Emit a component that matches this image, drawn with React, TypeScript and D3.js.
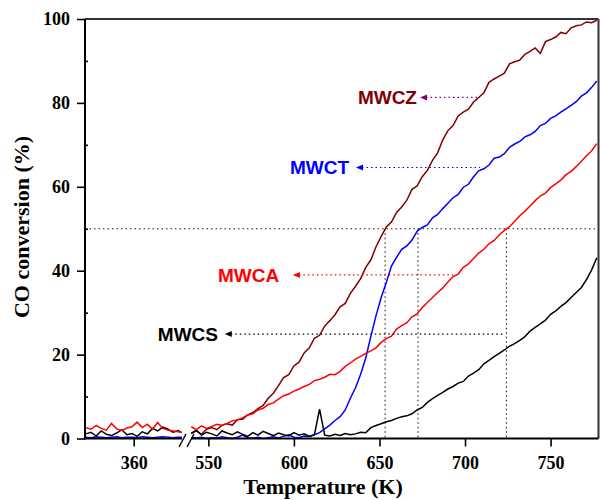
import React, { useEffect, useRef } from 'react'
import * as d3 from 'd3'

// temperatures (K) for the two pieces of the broken axis
const leftTemps = [332, 335, 338, 341, 344, 347, 350, 353, 356, 359, 362, 365, 368, 371, 374, 377, 380, 383, 386, 388]
const rightTemps = d3.range(540, 780, 3)

// CO conversion (%)
const mwczRight = [
    1.2, 1.8, 1.0, 2.2, 2.6, 2.1, 3.2, 3.5, 3.2, 4.5,
    4.6, 5.6, 6.2, 7.1, 7.9, 9.6, 10.8, 12.6, 14.5, 15.2,
    17.3, 18.2, 20.4, 21.6, 23.9, 24.6, 26.8, 28.1, 29.5, 31.4,
    32.2, 34.6, 36.3, 38.1, 40.8, 42.6, 45.7, 48.2, 50.4, 51.6,
    53.9, 55.2, 56.8, 59.4, 60.2, 62.4, 63.9, 66.3, 68.1, 71.2,
    73.4, 74.6, 76.9, 77.8, 78.5, 80.2, 81.3, 82.4, 84.9, 85.7,
    86.4, 87.1, 89.3, 89.8, 90.2, 91.6, 92.3, 93.1, 91.8, 94.6,
    95.1, 95.7, 96.8, 96.5, 97.9, 98.4, 98.6, 99.3, 99.1, 99.7
]
const mwctRight = [
    0.2, 0.1, 0.3, 0.0, 0.2, 0.1, 0.4, 0.2, 0.0, 0.3,
    0.8, 0.2, 0.1, 0.3, 0.0, 0.2, 0.4, 0.1, 0.5, 0.9,
    0.3, 0.2, 0.6, 0.5, 0.9, 1.4, 2.3, 3.2, 4.3, 5.2,
    6.8, 9.6, 12.1, 15.3, 19.2, 24.4, 29.3, 33.6, 37.2, 41.1,
    43.2, 45.1, 45.9, 47.3, 49.4, 50.3, 50.9, 52.6, 53.4, 54.8,
    56.1, 57.4, 58.2, 59.9, 60.6, 62.4, 63.8, 64.3, 65.2, 66.8,
    67.1, 67.9, 69.4, 70.2, 70.8, 71.9, 72.4, 73.2, 74.6, 75.1,
    76.3, 76.9, 77.8, 78.6, 79.4, 80.3, 81.6, 82.4, 83.7, 85.2
]
const mwcaRight = [
    2.8, 2.1, 3.0, 2.4, 2.9, 3.4, 3.1, 3.6, 4.2, 4.4,
    4.9, 5.6, 5.9, 6.8, 7.2, 8.1, 8.5, 9.4, 10.2, 10.6,
    11.3, 11.8, 12.4, 12.9, 13.8, 14.1, 14.6, 15.3, 15.2, 16.0,
    17.2, 18.0, 18.9, 19.6, 20.3, 20.9, 21.6, 22.9, 23.8, 24.4,
    26.1, 26.9, 27.6, 29.0, 29.7, 31.2, 32.4, 33.6, 34.8, 35.9,
    37.3, 38.6, 39.2, 40.8, 41.6, 42.9, 44.2, 45.1, 46.4, 47.2,
    48.5, 49.6, 50.5, 51.8, 53.1, 54.2, 55.4, 56.7, 57.8, 58.5,
    59.8, 60.7, 61.6, 62.9, 63.7, 64.8, 66.1, 67.4, 68.6, 70.3
]
const mwcsRight = [
    1.2, 2.0, 0.8, 1.5, 1.1, 0.6, 1.8, 1.3, 0.9, 1.6,
    1.0, 0.5, 1.4, 0.8, 1.7, 1.2, 0.7, 1.3, 0.9, 0.6,
    1.4, 0.8, 1.1, 0.5, 0.9, 7.0, 0.8, 0.6, 1.0, 0.7,
    1.2, 0.9, 1.1, 1.5, 1.4, 2.6, 3.1, 3.5, 4.0, 4.3,
    4.8, 5.2, 5.4, 5.9, 6.8, 7.4, 8.6, 9.5, 10.3, 11.0,
    11.8, 12.4, 13.2, 13.6, 14.9, 15.6, 16.4, 17.8, 18.6, 19.5,
    20.3, 21.1, 22.0, 22.6, 23.4, 24.3, 25.6, 26.5, 27.3, 28.2,
    29.6, 30.4, 31.5, 32.4, 33.6, 34.8, 36.0, 37.9, 40.2, 43.1
]
const mwctLeft = [0.3, 0.2, 0.4, 0.3, 0.2, 0.3, 0.4, 0.2, 0.3, 0.3, 0.2, 0.4, 0.3, 0.2, 0.3, 0.4, 0.3, 0.2, 0.3, 0.3]
const mwcsLeft = [1.1, 1.5, 0.6, 1.8, 1.0, 0.7, 1.3, 2.1, 0.9, 1.2, 0.5, 1.6, 1.1, 2.4, 1.8, 2.7, 2.2, 1.5, 1.9, 1.4]
const mwcaLeft = [2.6, 2.2, 3.1, 2.4, 2.0, 3.6, 2.3, 1.9, 2.5, 2.8, 3.9, 2.6, 3.4, 2.2, 3.8, 2.4, 2.0, 1.8, 1.6, 1.5]

const seriesNames = ['MWCT', 'MWCZ', 'MWCS', 'MWCA']
const seriesColors = ['#0000ff', '#800000', '#000000', '#ff0000']
const seriesLeft = [mwctLeft, null, mwcsLeft, mwcaLeft]
const seriesRight = [mwctRight, mwczRight, mwcsRight, mwcaRight]

// labels with dotted arrows: [name, colour, arrowColour, text start K, arrow tip K, arrow end K, level %]
const labels: [string, string, string, number, number, number, number][] = [
    ['MWCZ', '#800000', '#800080', 637.4, 673.7, 707.6, 81.3],
    ['MWCT', '#0000ff', '#0000ff', 597.7, 636.3, 708.8, 64.6],
    ['MWCA', '#ff0000', '#ff0000', 555.6, 599.4, 693.0, 39.0],
    ['MWCS', '#000000', '#000000', 520.5, 559.6, 722.8, 24.9],
]

// 50 % conversion markers
const t50 = [653.3, 672.5, 724.2]

const yMajor = [0, 20, 40, 60, 80, 100]
const yMinor = [10, 30, 50, 70, 90]
const xTicksLeft = [360]
const xTicksRight = [550, 600, 650, 700, 750]

const serif = '"Liberation Serif", "Times New Roman", serif'
const sans = '"Liberation Sans", Arial, sans-serif'

const App = () => {
    const ref = useRef<SVGSVGElement>(null)

    useEffect(() => {
        const svg = d3.select(ref.current)
        svg.selectAll('*').remove()

        const xl = d3.scaleLinear().domain([331.5, 389]).range([85, 183.3])
        const xr = d3.scaleLinear().domain([538.7, 778]).range([189, 598.5])
        const y = d3.scaleLinear().domain([0, 100]).range([438.5, 19])

        // reference lines
        svg.append('line')
            .attr('x1', xl(331.5)).attr('x2', xr(778))
            .attr('y1', y(50)).attr('y2', y(50))
            .attr('stroke', '#222').attr('stroke-width', 1.1)
            .attr('stroke-dasharray', '1.5,3')
        svg.selectAll('.t50')
            .data(t50)
            .join('line')
            .attr('class', 't50')
            .attr('x1', d => xr(d)).attr('x2', d => xr(d))
            .attr('y1', y(50)).attr('y2', y(0))
            .attr('stroke', '#222').attr('stroke-width', 1.1)
            .attr('stroke-dasharray', '1.5,3')

        // curves
        const lineL = d3.line<number>().x((d, i) => xl(leftTemps[i])).y(d => y(d))
        const lineR = d3.line<number>().x((d, i) => xr(rightTemps[i])).y(d => y(d))
        seriesNames.forEach((name, k) => {
            if (seriesLeft[k]) {
                svg.append('path')
                    .attr('d', lineL(seriesLeft[k] as number[]))
                    .attr('fill', 'none')
                    .attr('stroke', seriesColors[k])
                    .attr('stroke-width', 1.5)
            }
            svg.append('path')
                .attr('d', lineR(seriesRight[k]))
                .attr('fill', 'none')
                .attr('stroke', seriesColors[k])
                .attr('stroke-width', 1.5)
        })

        // frame
        const frame = [
            [xl(331.5), y(100), xr(778), y(100), '#333'],
            [xr(778), y(100), xr(778), y(0), '#333'],
            [xl(331.5), y(100), xl(331.5), y(0) + 1, '#000'],
            [xl(331.5), y(0), 182, y(0), '#000'],
            [191, y(0), xr(778), y(0), '#000'],
        ]
        frame.forEach(f => {
            svg.append('line')
                .attr('x1', f[0]).attr('y1', f[1]).attr('x2', f[2]).attr('y2', f[3])
                .attr('stroke', f[4] as string).attr('stroke-width', 2)
        })
        // break marks
        svg.append('path')
            .attr('d', 'M179,447L186,434M187,447L194,434')
            .attr('stroke', '#000').attr('stroke-width', 1.4).attr('fill', 'none')

        // axes
        const styleAxis = (g: any) => {
            g.select('.domain').remove()
            g.selectAll('line').attr('stroke', '#000').attr('stroke-width', 1.6)
            g.selectAll('text')
                .attr('font-family', serif)
                .attr('font-weight', 'bold')
                .attr('font-size', 18)
                .attr('fill', '#000')
        }
        svg.append('g')
            .attr('transform', `translate(${xl(331.5)},0)`)
            .call(d3.axisLeft(y).tickValues(yMajor).tickSize(8).tickPadding(7))
            .call(styleAxis)
        svg.append('g')
            .attr('transform', `translate(${xl(331.5)},0)`)
            .call(d3.axisRight(y).tickValues(yMinor).tickSize(3).tickFormat(() => ''))
            .call(styleAxis)
        svg.append('g')
            .attr('transform', `translate(0,${y(0)})`)
            .call(d3.axisBottom(xl).tickValues(xTicksLeft).tickSize(8).tickPadding(10))
            .call(styleAxis)
        svg.append('g')
            .attr('transform', `translate(0,${y(0)})`)
            .call(d3.axisBottom(xr).tickValues(xTicksRight).tickSize(8).tickPadding(10))
            .call(styleAxis)

        // axis titles
        svg.append('text')
            .attr('transform', `translate(29,227) rotate(-90)`)
            .attr('text-anchor', 'middle')
            .attr('font-family', serif)
            .attr('font-weight', 'bold')
            .attr('font-size', 22)
            .text('CO conversion (%)')
        svg.append('text')
            .attr('x', 323)
            .attr('y', 494)
            .attr('text-anchor', 'middle')
            .attr('font-family', serif)
            .attr('font-weight', 'bold')
            .attr('font-size', 22)
            .text('Temperature (K)')

        // series labels with arrows
        labels.forEach(([name, color, arrowColor, tText, tTip, tEnd, level]) => {
            const yy = y(level)
            svg.append('line')
                .attr('x1', xr(tTip) + 6).attr('x2', xr(tEnd))
                .attr('y1', yy).attr('y2', yy)
                .attr('stroke', arrowColor).attr('stroke-width', 1.2)
                .attr('stroke-dasharray', '1.5,3')
            svg.append('path')
                .attr('d', `M${xr(tTip)},${yy}L${xr(tTip) + 7},${yy - 3}L${xr(tTip) + 7},${yy + 3}Z`)
                .attr('fill', arrowColor)
            svg.append('text')
                .attr('x', xr(tText))
                .attr('y', yy)
                .attr('dy', '0.36em')
                .attr('font-family', sans)
                .attr('font-weight', 'bold')
                .attr('font-size', 19)
                .attr('fill', color)
                .text(name)
        })
    }, [])

    return (
        <svg ref={ref} width={601} height={500}
            style={{ position: 'absolute', left: 0, top: 0, background: '#fff' }} />
    )
}

export default App
